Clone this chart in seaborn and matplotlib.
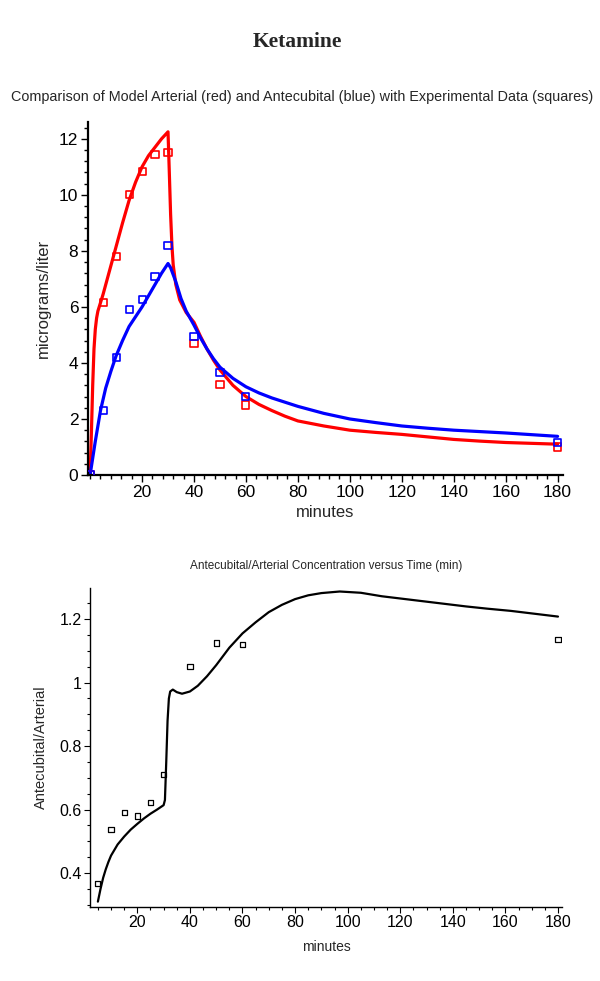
import numpy as np
import pandas as pd
import matplotlib
matplotlib.use("Agg")
import matplotlib.pyplot as plt
from matplotlib.ticker import MultipleLocator, FixedLocator
import seaborn as sns

# ---------------- data ----------------
exp_t = [0, 5, 10, 15, 20, 25, 30, 40, 50, 60, 180]
exp_arterial = [0.0, 6.15, 7.8, 10.0, 10.85, 11.45, 11.5, 4.68, 3.22, 2.5, 1.0]
exp_antecubital = [0.0, 2.3, 4.2, 5.9, 6.25, 7.1, 8.2, 4.95, 3.65, 2.8, 1.15]

model_art_t = [0, 0.5, 1, 1.5, 2, 2.5, 3, 4, 5, 7.5, 10, 12.5, 15, 17.5, 20, 22.5,
               25, 27.5, 30, 30.5, 31, 31.5, 32, 33, 34.5, 37, 40, 42.5, 45, 47.5,
               50, 55, 60, 65, 70, 75, 80, 90, 100, 110, 120, 130, 140, 150, 160,
               170, 180]
model_arterial = [0.0, 1.5, 3.2, 4.5, 5.2, 5.6, 5.85, 6.15, 6.45, 7.3, 8.15, 9.0,
                  9.8, 10.45, 11.0, 11.4, 11.7, 12.0, 12.25, 10.8, 9.3, 8.2, 7.5,
                  6.8, 6.25, 5.8, 5.45, 4.95, 4.5, 4.1, 3.75, 3.2, 2.8, 2.52, 2.3,
                  2.1, 1.93, 1.75, 1.6, 1.52, 1.45, 1.36, 1.27, 1.21, 1.16, 1.13, 1.1]

model_ant_t = [0, 1, 2, 3, 4, 5, 6, 8, 10, 12.5, 15, 17.5, 20, 22.5, 25, 27.5, 30,
               31, 32, 33, 35, 37, 40, 42.5, 45, 47.5, 50, 55, 60, 65, 70, 75, 80,
               90, 100, 110, 120, 130, 140, 160, 180]
model_antecubital = [0.0, 0.6, 1.2, 1.75, 2.3, 2.7, 3.1, 3.7, 4.25, 4.8, 5.3, 5.65,
                     6.0, 6.4, 6.8, 7.2, 7.55, 7.4, 7.15, 6.9, 6.3, 5.85, 5.35, 4.9,
                     4.5, 4.15, 3.85, 3.45, 3.15, 2.93, 2.75, 2.6, 2.45, 2.2, 2.0,
                     1.87, 1.75, 1.67, 1.6, 1.5, 1.38]

ratio_exp_t = [5, 10, 15, 20, 25, 30, 40, 50, 60, 180]
ratio_exp = [0.368, 0.537, 0.59, 0.58, 0.622, 0.71, 1.05, 1.125, 1.12, 1.137]

ratio_model_t = [5, 5.5, 6, 7, 8, 9, 10, 12.5, 15, 17.5, 20, 22.5, 25, 27.5, 30,
                 30.5, 31, 31.5, 32, 32.5, 33.5, 35, 37, 40, 43, 46.5, 50, 55, 60,
                 65, 70, 75, 80, 85, 90, 97, 105, 113, 120, 129, 137, 145, 153, 162,
                 170, 178, 180]
ratio_model = [0.31, 0.33, 0.35, 0.385, 0.412, 0.435, 0.455, 0.49, 0.515, 0.537,
               0.555, 0.572, 0.587, 0.60, 0.614, 0.63, 0.75, 0.88, 0.95, 0.972,
               0.978, 0.97, 0.965, 0.972, 0.99, 1.02, 1.055, 1.11, 1.155, 1.19,
               1.222, 1.245, 1.263, 1.275, 1.282, 1.287, 1.283, 1.272, 1.265, 1.256,
               1.248, 1.24, 1.233, 1.226, 1.218, 1.21, 1.208]

title_main = "Ketamine"
title_top = ("Comparison of Model Arterial (red) and Antecubital (blue) "
             "with Experimental Data (squares)")
title_bottom = "Antecubital/Arterial Concentration versus Time (min)"

# ---------------- fonts ----------------
sns.set_style("white")
SANS = "Liberation Sans"
SERIF = "Liberation Serif"
plt.rcParams["font.family"] = [SANS, "DejaVu Sans"]

RED = "#ff0000"
BLUE = "#0000ff"

fig = plt.figure(figsize=(6.0, 9.81), dpi=100)

# ---------------- top panel ----------------
ax1 = fig.add_axes([0.1467, 0.5158, 0.938 - 0.1467, 0.8756 - 0.5158])
df_art = pd.DataFrame({"t": model_art_t, "v": model_arterial})
df_ant = pd.DataFrame({"t": model_ant_t, "v": model_antecubital})
sns.lineplot(data=df_art, x="t", y="v", ax=ax1, color=RED, lw=2.3, sort=False)
sns.lineplot(data=df_ant, x="t", y="v", ax=ax1, color=BLUE, lw=2.3, sort=False)
df_exp = pd.DataFrame({"t": exp_t, "a": exp_arterial, "b": exp_antecubital})
sns.scatterplot(data=df_exp, x="t", y="a", ax=ax1, marker="s", s=26,
                facecolor="none", edgecolor=RED, linewidth=1.2, zorder=5)
sns.scatterplot(data=df_exp, x="t", y="b", ax=ax1, marker="s", s=26,
                facecolor="none", edgecolor=BLUE, linewidth=1.2, zorder=5)
ax1.set_xlim(-0.8, 182)
ax1.set_ylim(0, 12.6)
ax1.xaxis.set_major_locator(FixedLocator(list(range(20, 181, 20))))
ax1.xaxis.set_minor_locator(MultipleLocator(4))
ax1.yaxis.set_major_locator(MultipleLocator(2))
ax1.yaxis.set_minor_locator(MultipleLocator(0.4))
for s in ["top", "right"]:
    ax1.spines[s].set_visible(False)
for s in ["left", "bottom"]:
    ax1.spines[s].set_color("black")
    ax1.spines[s].set_linewidth(1.6)
ax1.tick_params(which="major", direction="out", length=5, width=1, colors="black",
                labelsize=12.5, pad=2)
ax1.tick_params(which="minor", direction="out", length=3, width=1, colors="black")
ax1.tick_params(axis="both", which="both", bottom=True, left=True)
ax1.set_xlabel("minutes", fontsize=12, family=SANS, labelpad=4)
ax1.set_ylabel("micrograms/liter", fontsize=12, family=SANS, labelpad=6)
fig.text(0.503, 1 - 97 / 981, title_top, ha="center", va="center",
         fontsize=10.4, family=SANS)

# ---------------- bottom panel ----------------
ax2 = fig.add_axes([0.15, 0.0754, 0.937 - 0.15, 0.4006 - 0.0754])
df_rm = pd.DataFrame({"t": ratio_model_t, "r": ratio_model})
sns.lineplot(data=df_rm, x="t", y="r", ax=ax2, color="black", lw=1.6, sort=False)
df_re = pd.DataFrame({"t": ratio_exp_t, "r": ratio_exp})
sns.scatterplot(data=df_re, x="t", y="r", ax=ax2, marker="s", s=14,
                facecolor="none", edgecolor="black", linewidth=0.9, zorder=5)
ax2.set_xlim(2, 181.6)
ax2.set_ylim(0.293, 1.298)
ax2.xaxis.set_major_locator(FixedLocator(list(range(20, 181, 20))))
ax2.xaxis.set_minor_locator(MultipleLocator(5))
ax2.yaxis.set_major_locator(FixedLocator([0.4, 0.6, 0.8, 1.0, 1.2]))
ax2.yaxis.set_minor_locator(MultipleLocator(0.05))
ax2.set_yticklabels(["0.4", "0.6", "0.8", "1", "1.2"])
for s in ["top", "right"]:
    ax2.spines[s].set_visible(False)
for s in ["left", "bottom"]:
    ax2.spines[s].set_color("black")
    ax2.spines[s].set_linewidth(1.0)
ax2.tick_params(which="major", direction="out", length=4, width=0.8, colors="black",
                labelsize=11.5, pad=2)
ax2.tick_params(which="minor", direction="out", length=2.5, width=0.8, colors="black")
ax2.tick_params(axis="both", which="both", bottom=True, left=True)
ax2.set_xlabel("minutes", fontsize=10, family=SANS, labelpad=7)
ax2.set_ylabel("Antecubital/Arterial", fontsize=10.5, family=SANS, labelpad=8)
ax2.set_title(title_bottom, fontsize=8.5, family=SANS, pad=14)

fig.text(0.495, 1 - 42 / 981, title_main, ha="center", va="center",
         fontsize=15.5, fontweight="bold", family=SERIF)

fig.savefig("out.png", dpi=100, facecolor="white")
